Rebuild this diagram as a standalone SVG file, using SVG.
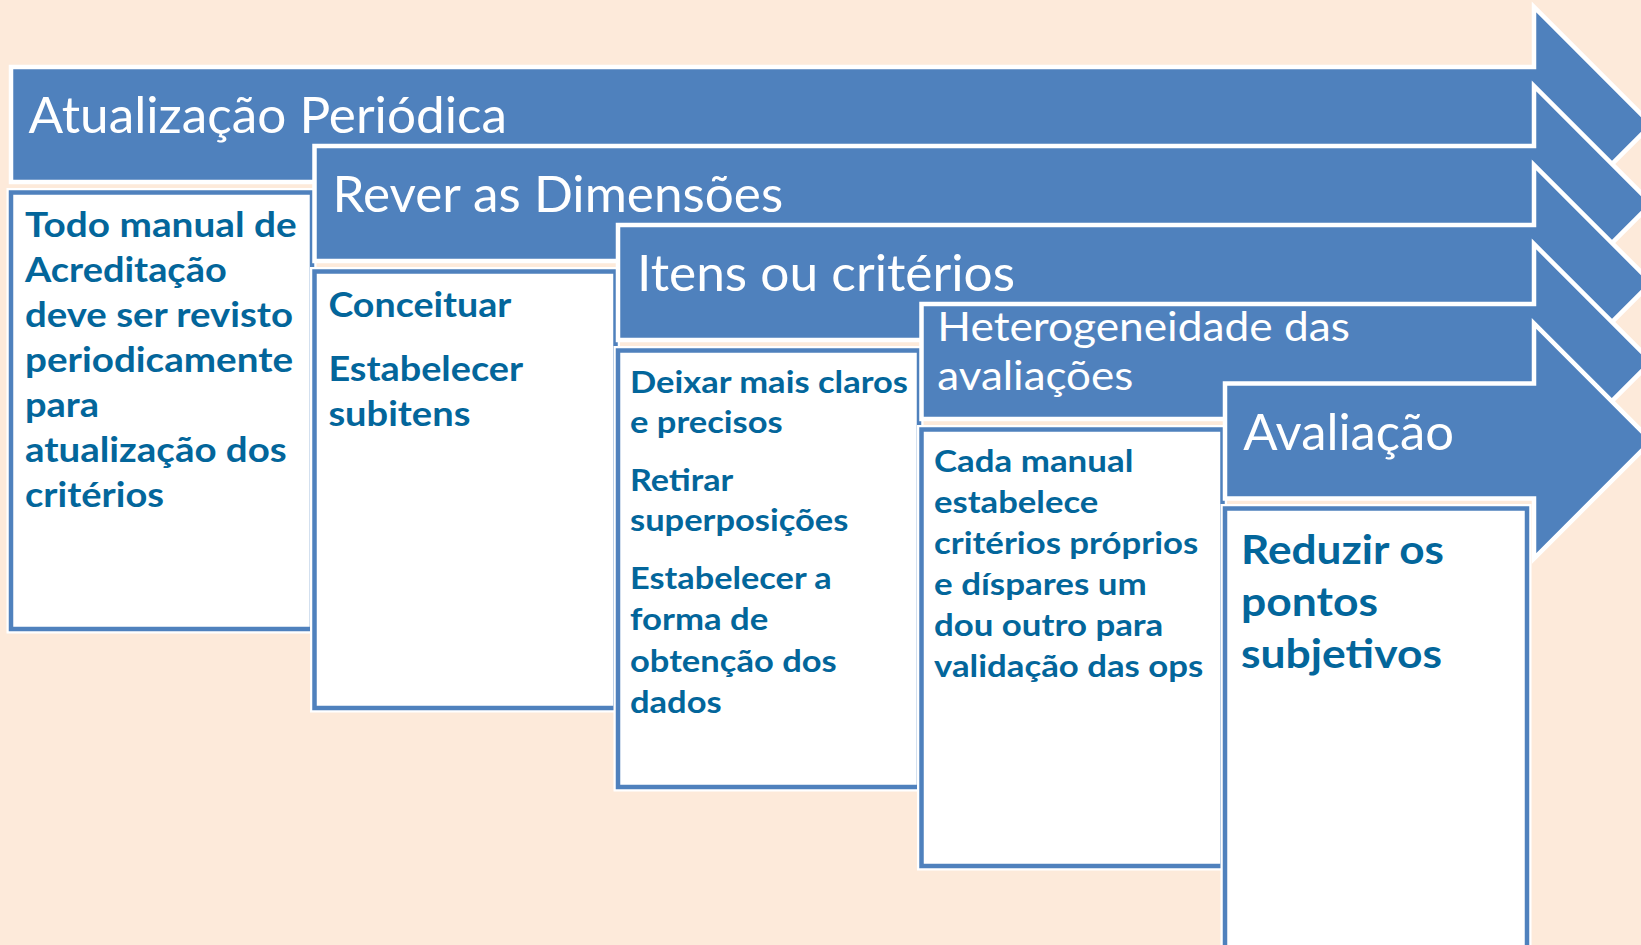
<svg xmlns="http://www.w3.org/2000/svg" width="1641" height="945" viewBox="0 0 1641 945">
  <style>
    .arrow { fill: #4F81BD; stroke: #FFFFFF; stroke-width: 4.5; stroke-linejoin: miter; stroke-miterlimit: 10; }
    .halo { fill: #FFFFFF; stroke: #FFFFFF; stroke-width: 9; }
    .box { fill: #FFFFFF; stroke: #4F81BD; stroke-width: 4.5; }
    .title { font-family: Lato, "Open Sans", "Liberation Sans", sans-serif; font-weight: 400; fill: #FFFFFF; }
    .t1 { font-size: 50px; }
    .t2 { font-size: 41px; }
    .body { font-family: Lato, "Open Sans", "Liberation Sans", sans-serif; font-weight: 700; fill: #03669B; }
    .b1 { font-size: 33.5px; }
    .b3 { font-size: 30px; }
    .b5 { font-size: 40px; }
  </style>
  <rect x="0" y="0" width="1641" height="945" fill="#FDEADA"/>

  <g id="step1">
    <path class="arrow" d="M11,67 H1534 V7 L1651.5,124.5 L1534,242 V182 H11 Z"/>
    <rect class="halo" x="11" y="192.5" width="301" height="436.5"/>
    <rect class="box" x="11" y="192.5" width="301" height="436.5"/>
    <text class="title t1" x="28.5" y="132.7" textLength="478.5" lengthAdjust="spacingAndGlyphs">Atualização Periódica</text>
    <text class="body b1" x="25" y="236.7" textLength="271.7" lengthAdjust="spacingAndGlyphs">Todo manual de</text>
    <text class="body b1" x="25" y="281.7" textLength="201.7" lengthAdjust="spacingAndGlyphs">Acreditação</text>
    <text class="body b1" x="25" y="326.7" textLength="268" lengthAdjust="spacingAndGlyphs">deve ser revisto</text>
    <text class="body b1" x="25" y="371.7" textLength="268" lengthAdjust="spacingAndGlyphs">periodicamente</text>
    <text class="body b1" x="25" y="416.7" textLength="74" lengthAdjust="spacingAndGlyphs">para</text>
    <text class="body b1" x="25" y="461.7" textLength="261.7" lengthAdjust="spacingAndGlyphs">atualização dos</text>
    <text class="body b1" x="25" y="506.7" textLength="139" lengthAdjust="spacingAndGlyphs">critérios</text>
  </g>

  <g id="step2">
    <path class="arrow" d="M314.5,146 H1534 V86 L1651.5,203.5 L1534,321 V261 H314.5 Z"/>
    <rect class="halo" x="314.5" y="271.5" width="301" height="436.5"/>
    <rect class="box" x="314.5" y="271.5" width="301" height="436.5"/>
    <text class="title t1" x="332.6" y="211.7" textLength="450.5" lengthAdjust="spacingAndGlyphs">Rever as Dimensões</text>
    <text class="body b1" x="328.4" y="317.3" textLength="183" lengthAdjust="spacingAndGlyphs">Conceituar</text>
    <text class="body b1" x="328.4" y="380.7" textLength="194.7" lengthAdjust="spacingAndGlyphs">Estabelecer</text>
    <text class="body b1" x="328.4" y="425.7" textLength="142" lengthAdjust="spacingAndGlyphs">subitens</text>
  </g>

  <g id="step3">
    <path class="arrow" d="M618,225 H1534 V165 L1651.5,282.5 L1534,400 V340 H618 Z"/>
    <rect class="halo" x="618" y="350.5" width="301" height="436.5"/>
    <rect class="box" x="618" y="350.5" width="301" height="436.5"/>
    <text class="title t1" x="637" y="290.7" textLength="378" lengthAdjust="spacingAndGlyphs">Itens ou critérios</text>
    <text class="body b3" x="630" y="393.3" textLength="278" lengthAdjust="spacingAndGlyphs">Deixar mais claros</text>
    <text class="body b3" x="630" y="433" textLength="152.7" lengthAdjust="spacingAndGlyphs">e precisos</text>
    <text class="body b3" x="630" y="490.6" textLength="103.3" lengthAdjust="spacingAndGlyphs">Retirar</text>
    <text class="body b3" x="630" y="531.4" textLength="218.3" lengthAdjust="spacingAndGlyphs">superposições</text>
    <text class="body b3" x="630" y="589" textLength="201.7" lengthAdjust="spacingAndGlyphs">Estabelecer a</text>
    <text class="body b3" x="630" y="629.8" textLength="138.3" lengthAdjust="spacingAndGlyphs">forma de</text>
    <text class="body b3" x="630" y="671.7" textLength="206.7" lengthAdjust="spacingAndGlyphs">obtenção dos</text>
    <text class="body b3" x="630" y="712.5" textLength="91.7" lengthAdjust="spacingAndGlyphs">dados</text>
  </g>

  <g id="step4">
    <path class="arrow" d="M921.5,304 H1534 V244 L1651.5,361.5 L1534,479 V419 H921.5 Z"/>
    <rect class="halo" x="921.5" y="429.5" width="301" height="436.5"/>
    <rect class="box" x="921.5" y="429.5" width="301" height="436.5"/>
    <text class="title t2" x="937.3" y="340.7" textLength="412.7" lengthAdjust="spacingAndGlyphs">Heterogeneidade das</text>
    <text class="title t2" x="937.3" y="390" textLength="196" lengthAdjust="spacingAndGlyphs">avaliações</text>
    <text class="body b3" x="934" y="471.7" textLength="199.3" lengthAdjust="spacingAndGlyphs">Cada manual</text>
    <text class="body b3" x="934" y="512.7" textLength="164.3" lengthAdjust="spacingAndGlyphs">estabelece</text>
    <text class="body b3" x="934" y="553.7" textLength="264.3" lengthAdjust="spacingAndGlyphs">critérios próprios</text>
    <text class="body b3" x="934" y="594.7" textLength="212.7" lengthAdjust="spacingAndGlyphs">e díspares um</text>
    <text class="body b3" x="934" y="635.7" textLength="229.3" lengthAdjust="spacingAndGlyphs">dou outro para</text>
    <text class="body b3" x="934" y="676.7" textLength="269.3" lengthAdjust="spacingAndGlyphs">validação das ops</text>
  </g>

  <g id="step5">
    <path class="arrow" d="M1225,383.5 H1534 V323.5 L1651.5,441 L1534,558.5 V498.5 H1225 Z"/>
    <rect class="halo" x="1225" y="508.5" width="302" height="470"/>
    <rect class="box" x="1225" y="508.5" width="302" height="470"/>
    <text class="title t1" x="1243.3" y="449.5" textLength="210.7" lengthAdjust="spacingAndGlyphs">Avaliação</text>
    <text class="body b5" x="1241" y="564" textLength="203" lengthAdjust="spacingAndGlyphs">Reduzir os</text>
    <text class="body b5" x="1241" y="616" textLength="137" lengthAdjust="spacingAndGlyphs">pontos</text>
    <text class="body b5" x="1241" y="668" textLength="201" lengthAdjust="spacingAndGlyphs">subjetivos</text>
  </g>
</svg>
